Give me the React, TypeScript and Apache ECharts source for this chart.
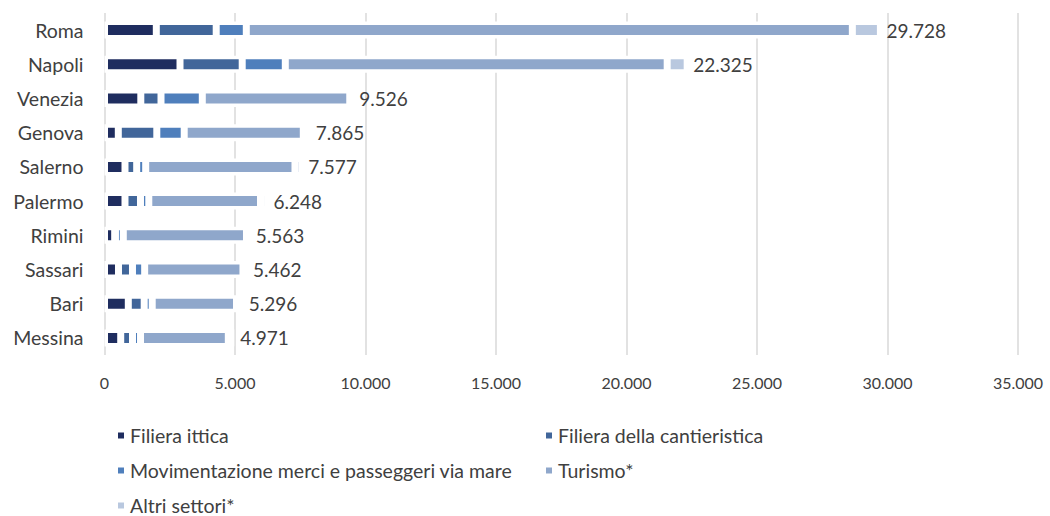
import React, { useEffect, useRef } from "react";
import * as echarts from "echarts";

const cities = ["Roma", "Napoli", "Venezia", "Genova", "Salerno", "Palermo", "Rimini", "Sassari", "Bari", "Messina"];
const totals = [29728, 22325, 9526, 7865, 7577, 6248, 5563, 5462, 5296, 4971];
const filieraIttica = [1985, 2893, 1391, 529, 785, 785, 390, 536, 912, 621];
const cantieristica = [2295, 2383, 774, 1475, 448, 594, 30, 536, 609, 452];
const movimentazione = [1153, 1651, 1582, 1050, 345, 318, 300, 467, 307, 307];
const turismo = [23220, 14632, 5650, 4563, 5720, 4280, 4720, 3766, 3230, 3364];
const altri = totals.map((t, i) => t - filieraIttica[i] - cantieristica[i] - movimentazione[i] - turismo[i]);
const xTicks = [0, 5000, 10000, 15000, 20000, 25000, 30000, 35000];

const seriesNames = [
  "Filiera ittica",
  "Filiera della cantieristica",
  "Movimentazione merci e passeggeri via mare",
  "Turismo*",
  "Altri settori*",
];
const seriesColors = ["#1f2d5f", "#41669a", "#4f7fbc", "#8fa7cb", "#b9c8df"];

function fmt(n: number): string {
  const s = Math.round(n).toString();
  return s.replace(/\B(?=(\d{3})+(?!\d))/g, ".");
}

const FONT = "Lato";
const TXT = "#404040";

export default function App() {
  const ref = useRef<HTMLDivElement>(null);
  useEffect(() => {
    if (!ref.current) return;
    const chart = echarts.init(ref.current, undefined, { renderer: "svg" });
    const dataSets = [filieraIttica, cantieristica, movimentazione, turismo, altri];
    const stacked = dataSets.map((d, i) => ({
      name: seriesNames[i],
      type: "bar",
      stack: "tot",
      data: d,
      barWidth: 17,
      itemStyle: { color: seriesColors[i], borderColor: "#ffffff", borderWidth: 3.5 },
      z: 3,
    }));
    const labelSeries = {
      name: "Totale",
      type: "bar",
      data: totals,
      barWidth: 17,
      barGap: "-100%",
      silent: true,
      z: 1,
      itemStyle: { color: "rgba(0,0,0,0)" },
      label: {
        show: true,
        position: "right",
        distance: 6,
        formatter: (p: any) => fmt(p.value),
        fontFamily: FONT,
        fontSize: 19,
        color: TXT,
      },
    };
    const legendCommon = {
      orient: "vertical",
      top: 425,
      height: 100,
      padding: 0,
      itemGap: 14,
      itemWidth: 8,
      itemHeight: 8,
      icon: "rect",
      selectedMode: false,
      textStyle: { fontFamily: FONT, fontSize: 19.5, color: TXT, lineHeight: 21 },
    };
    chart.setOption({
      animation: false,
      textStyle: { fontFamily: FONT },
      grid: { left: 104.5, right: 32, top: 13, bottom: 161, containLabel: false },
      xAxis: {
        type: "value",
        min: 0,
        max: 35000,
        interval: 5000,
        axisLine: { show: false },
        axisTick: { show: false },
        splitLine: { show: true, lineStyle: { color: "#d9d9d9", width: 1.5 } },
        axisLabel: {
          margin: 19,
          fontFamily: FONT,
          fontSize: 16,
          color: TXT,
          formatter: (v: number) => (xTicks.includes(v) ? fmt(v) : ""),
        },
      },
      yAxis: {
        type: "category",
        data: cities,
        inverse: true,
        axisLine: { show: false },
        axisTick: { show: false },
        axisLabel: { margin: 21, fontFamily: FONT, fontSize: 19.5, color: TXT },
      },
      legend: [
        { ...legendCommon, left: 116, data: [seriesNames[0], seriesNames[2], seriesNames[4]] },
        { ...legendCommon, left: 544, data: [seriesNames[1], seriesNames[3]] },
      ],
      series: [...stacked, labelSeries],
    });
    return () => chart.dispose();
  }, []);
  return (
    <div
      ref={ref}
      style={{ position: "absolute", left: 0, top: 0, width: 1050, height: 516, background: "#ffffff" }}
    />
  );
}
